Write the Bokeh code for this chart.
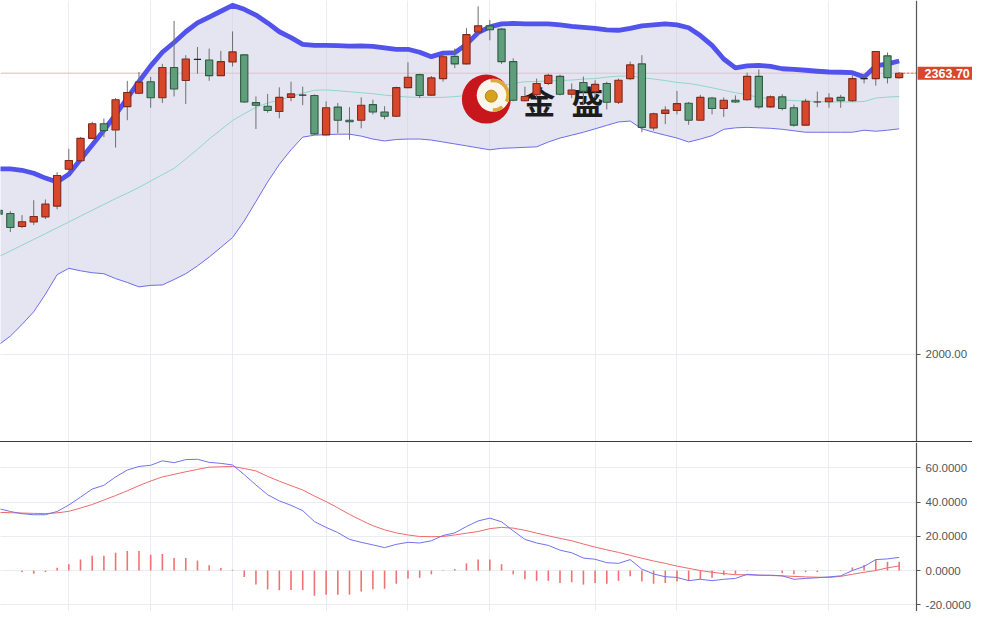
from bokeh.plotting import figure
from bokeh.models import (Range1d, FixedTicker, PrintfTickFormatter, Grid, Span, Label,
                          BoxAnnotation)
from bokeh.layouts import column
from bokeh.embed import file_html
from bokeh.resources import INLINE
from bokeh.core.properties import value

# ---------------- data (daily candles, first one partly outside the view) ----------------
opens = [2186.4, 2182.2, 2165.3, 2171.2, 2177.9, 2191.8, 2239.4, 2250.4, 2279.4, 2298.3,
         2290.2, 2320.5, 2337.8, 2352.6, 2331.9, 2371.0, 2354.2, 2381.6, 2380.7, 2360.5,
         2378.2, 2387.4, 2325.6, 2321.0, 2314.2, 2332.4, 2335.3, 2334.9, 2283.9, 2319.8,
         2302.9, 2302.9, 2323.0, 2313.5, 2307.9, 2345.0, 2361.8, 2335.3, 2356.7, 2385.4,
         2375.7, 2416.9, 2424.9, 2420.7, 2378.6, 2328.1, 2335.7, 2350.4, 2359.6, 2336.5,
         2351.7, 2340.0, 2350.4, 2326.1, 2356.7, 2375.7, 2292.8, 2311.7, 2315.5, 2324.8,
         2302.9, 2331.5, 2318.0, 2328.6, 2329.4, 2359.6, 2320.1, 2333.1, 2318.9, 2296.5,
         2326.5, 2326.8, 2332.4, 2328.1, 2356.7, 2356.7, 2386.1, 2358.0]
highs = [2190.2, 2185.1, 2180.1, 2199.4, 2200.3, 2235.6, 2265.9, 2281.0, 2300.8, 2305.0,
         2331.5, 2353.8, 2365.2, 2358.9, 2375.7, 2431.2, 2387.0, 2397.5, 2395.5, 2392.5,
         2417.7, 2388.3, 2333.6, 2336.9, 2345.4, 2352.6, 2346.3, 2336.2, 2327.3, 2325.2,
         2319.8, 2332.4, 2329.4, 2321.0, 2346.3, 2377.8, 2363.0, 2360.1, 2388.3, 2395.5,
         2422.0, 2450.1, 2432.5, 2422.0, 2382.9, 2346.3, 2356.7, 2363.0, 2361.8, 2350.4,
         2359.3, 2354.6, 2352.6, 2356.7, 2378.6, 2387.0, 2312.6, 2321.0, 2340.7, 2326.5,
         2335.7, 2333.1, 2332.4, 2334.9, 2364.3, 2368.5, 2334.9, 2336.5, 2323.0, 2330.6,
         2339.9, 2337.8, 2335.7, 2360.9, 2361.8, 2392.5, 2390.4, 2365.2]
lows = [2177.5, 2158.2, 2163.3, 2167.4, 2175.0, 2187.6, 2238.1, 2249.5, 2278.5, 2281.0,
        2267.5, 2302.9, 2336.5, 2318.9, 2325.2, 2333.6, 2323.9, 2363.0, 2353.8, 2360.1,
        2372.3, 2325.2, 2291.5, 2312.6, 2305.4, 2327.3, 2322.3, 2283.9, 2283.2, 2286.1,
        2277.6, 2292.4, 2310.4, 2304.1, 2307.1, 2344.1, 2331.5, 2334.4, 2352.6, 2370.2,
        2374.8, 2415.7, 2406.3, 2375.7, 2327.3, 2327.3, 2331.5, 2348.3, 2334.9, 2331.5,
        2323.0, 2331.5, 2316.7, 2323.9, 2354.6, 2287.3, 2289.5, 2297.8, 2310.4, 2297.0,
        2302.1, 2310.4, 2307.1, 2325.2, 2328.1, 2317.6, 2318.9, 2315.5, 2294.5, 2295.8,
        2319.8, 2318.9, 2318.9, 2326.5, 2350.4, 2347.5, 2350.4, 2356.7]
closes = [2181.3, 2164.0, 2171.6, 2178.4, 2194.3, 2231.4, 2250.7, 2279.4, 2298.3, 2289.5,
          2329.4, 2338.7, 2352.1, 2331.9, 2371.0, 2343.2, 2382.0, 2381.6, 2360.5, 2378.6,
          2391.2, 2326.5, 2322.3, 2315.5, 2332.4, 2336.9, 2335.3, 2285.2, 2318.9, 2302.9,
          2300.8, 2322.3, 2313.5, 2307.9, 2345.0, 2358.4, 2334.9, 2357.6, 2384.9, 2375.7,
          2413.5, 2424.9, 2419.8, 2378.6, 2328.6, 2333.6, 2350.4, 2360.9, 2336.5, 2342.0,
          2340.3, 2349.2, 2326.1, 2354.6, 2374.4, 2293.6, 2311.3, 2316.0, 2324.3, 2302.9,
          2332.4, 2318.0, 2328.6, 2326.5, 2359.6, 2320.1, 2333.1, 2318.0, 2296.5, 2327.3,
          2326.5, 2331.5, 2328.1, 2356.7, 2356.7, 2391.7, 2358.0, 2363.7]

# Bollinger bands
boll_upper = [2240.0, 2239.8, 2238.1, 2234.3, 2228.0, 2223.0, 2233.1, 2252.0, 2270.9, 2289.9,
              2310.0, 2331.5, 2353.0, 2373.1, 2390.8, 2403.4, 2417.3, 2428.7, 2436.2, 2443.8,
              2451.4, 2446.3, 2438.8, 2428.7, 2417.3, 2409.7, 2400.9, 2399.6, 2399.6, 2399.3,
              2398.8, 2399.0, 2398.4, 2396.5, 2394.6, 2394.6, 2390.8, 2385.1, 2389.6, 2390.2,
              2400.9, 2416.1, 2423.6, 2427.4, 2428.0, 2427.4, 2427.4, 2427.4, 2426.1, 2424.3,
              2423.0, 2421.7, 2419.8, 2419.2, 2421.7, 2424.9, 2426.1, 2427.4, 2426.1, 2422.4,
              2412.3, 2399.6, 2382.0, 2370.6, 2373.1, 2373.8, 2372.5, 2369.4, 2368.5, 2367.5,
              2366.2, 2365.2, 2364.9, 2364.3, 2358.6, 2373.1, 2375.7, 2379.5]
boll_mid = [2126.4, 2133.7, 2141.2, 2148.6, 2156.1, 2163.7, 2171.2, 2178.8, 2186.4, 2193.9,
            2201.5, 2208.5, 2216.0, 2224.2, 2232.4, 2240.6, 2252.6, 2265.2, 2278.5, 2290.5,
            2302.5, 2311.3, 2319.5, 2325.2, 2329.0, 2333.4, 2337.8, 2341.6, 2342.0, 2341.0,
            2339.7, 2338.4, 2337.2, 2335.3, 2334.0, 2332.8, 2332.4, 2332.4, 2332.4, 2333.4,
            2334.7, 2337.8, 2342.9, 2347.9, 2350.4, 2352.6, 2353.0, 2353.6, 2354.2, 2354.8,
            2356.1, 2356.7, 2358.6, 2359.9, 2360.1, 2358.0, 2356.1, 2354.2, 2351.7, 2350.4,
            2347.9, 2344.8, 2341.6, 2338.4, 2335.9, 2332.1, 2330.9, 2329.6, 2328.1, 2327.7,
            2327.1, 2326.5, 2326.5, 2326.5, 2327.1, 2331.5, 2332.8, 2333.6]
boll_lower = [2012.2, 2023.6, 2038.7, 2055.1, 2077.8, 2103.1, 2111.3, 2108.1, 2105.6, 2104.3,
              2098.0, 2093.0, 2087.3, 2089.2, 2089.8, 2096.8, 2104.3, 2114.4, 2125.8, 2138.4,
              2151.0, 2172.5, 2197.7, 2223.0, 2245.7, 2264.6, 2281.0, 2283.5, 2284.2, 2284.8,
              2284.8, 2282.3, 2278.5, 2276.0, 2277.9, 2278.5, 2278.5, 2277.2, 2274.7, 2272.2,
              2269.7, 2267.1, 2264.6, 2266.5, 2267.1, 2267.8, 2268.4, 2274.7, 2279.8, 2283.5,
              2287.3, 2291.7, 2296.2, 2300.6, 2301.8, 2291.7, 2287.3, 2283.5, 2279.8, 2274.7,
              2278.5, 2282.9, 2291.1, 2293.0, 2293.6, 2293.0, 2292.4, 2291.1, 2289.2, 2287.3,
              2287.3, 2287.3, 2287.3, 2287.3, 2289.9, 2288.6, 2289.9, 2291.7]

# MACD
macd_dif = [36.2, 34.5, 33.2, 32.6, 32.6, 34.5, 38.3, 42.9, 47.6, 49.8,
            54.7, 58.7, 60.8, 61.5, 64.1, 63.0, 64.8, 65.0, 63.2, 62.6,
            61.7, 56.0, 50.0, 44.3, 40.7, 38.1, 35.0, 28.6, 25.2, 22.2,
            18.2, 16.5, 15.0, 13.4, 15.3, 16.5, 16.1, 17.4, 20.5, 22.0,
            25.7, 29.0, 30.6, 28.5, 23.2, 18.2, 16.1, 14.7, 11.9, 10.4,
            7.3, 6.6, 4.6, 4.2, 6.4, 0.8, -2.0, -3.6, -4.0, -5.9,
            -5.1, -5.9, -5.1, -4.6, -2.2, -2.7, -2.7, -3.1, -5.1, -4.6,
            -4.2, -3.7, -3.1, 0.0, 2.4, 6.4, 6.8, 7.7]
macd_dea = [34.0, 33.8, 33.6, 33.4, 33.3, 33.7, 34.6, 36.5, 38.6, 41.2,
            43.8, 46.6, 49.6, 52.3, 54.7, 56.2, 57.7, 59.1, 60.4, 60.6,
            60.8, 59.6, 58.2, 55.0, 52.2, 49.6, 47.1, 43.5, 40.3, 36.6,
            32.8, 29.4, 26.2, 23.8, 22.0, 20.8, 19.9, 19.8, 19.9, 20.8,
            21.8, 22.8, 24.5, 25.2, 24.8, 23.5, 21.9, 20.3, 18.8, 17.4,
            15.5, 13.7, 12.1, 10.6, 8.9, 7.2, 5.6, 4.2, 2.6, 1.3,
            0.0, -1.0, -1.8, -2.4, -2.5, -2.7, -2.9, -3.1, -3.4, -3.7,
            -3.9, -4.0, -3.4, -2.2, -1.0, 0.0, 1.6, 2.7]
macd_hist = [0.0, 0.0, -0.9, -1.8, -0.9, 1.6, 3.7, 6.4, 8.6, 8.6,
             10.4, 11.4, 11.4, 9.2, 9.7, 7.3, 7.3, 5.9, 3.1, 1.5,
             0.5, -3.7, -8.2, -11.0, -11.5, -11.4, -11.4, -14.7, -14.1, -14.1,
             -14.1, -12.3, -11.0, -10.6, -7.7, -4.6, -4.2, -2.2, -0.3, 0.9,
             4.2, 6.4, 6.4, 3.7, -2.2, -5.1, -6.0, -6.0, -7.3, -6.8,
             -8.2, -7.3, -7.7, -6.0, -3.3, -6.4, -7.7, -7.3, -6.4, -6.0,
             -5.1, -4.2, -2.7, -2.2, -0.3, 0.1, 0.1, -1.5, -2.2, -0.9,
             -0.9, 0.1, 0.3, 1.8, 3.3, 6.4, 5.1, 5.1]

first_index = -1
idx = list(range(first_index, first_index + len(opens)))

grid_days = [5, 12, 19, 27, 34, 41, 50, 57, 70]
price_ticks = [2000]
macd_ticks = [-20, 0, 20, 40, 60]

# ---------------- styles / layout ----------------
UP_FILL, UP_LINE = "#d9472b", "#7e2a1c"
DN_FILL, DN_LINE = "#5f9e7b", "#2f5a44"
DOJI = "#222222"
AX_COL = "#555555"
GRID_COL = "#e9ecf1"
FONT = "Liberation Sans"

FIG_W = 972
AXIS_X = 77.49                      # x position of the price axis line
x_range = Range1d(-0.841, 82.27)


def style_axis(fig, ticks, fmt):
    ax = fig.yaxis[0]
    ax.fixed_location = AXIS_X
    ax.ticker = FixedTicker(ticks=ticks)
    ax.formatter = PrintfTickFormatter(format=fmt)
    ax.axis_line_color = AX_COL
    ax.axis_line_width = 1.2
    ax.major_tick_line_color = AX_COL
    ax.major_tick_out = 4
    ax.major_tick_in = 0
    ax.minor_tick_line_color = None
    ax.major_label_text_color = AX_COL
    ax.major_label_text_font = FONT
    ax.major_label_text_font_size = "11.5px"
    ax.major_label_standoff = 5


def add_grids(fig, yticks):
    fig.grid.visible = False
    fig.add_layout(Grid(dimension=0, ticker=FixedTicker(ticks=grid_days),
                        grid_line_color=GRID_COL, grid_line_width=1))
    fig.add_layout(Grid(dimension=1, ticker=FixedTicker(ticks=yticks),
                        grid_line_color=GRID_COL, grid_line_width=1))


# ---------------- price panel ----------------
p = figure(width=FIG_W, height=441, x_range=x_range,
           y_range=Range1d(1887.3, 2457.7), x_axis_location=None,
           y_axis_location="right", toolbar_location=None, output_backend="svg",
           min_border=0, outline_line_color=None,
           background_fill_color="white", border_fill_color="white")
add_grids(p, price_ticks)
style_axis(p, price_ticks, "%.2f")

last_close = closes[-1]
p.add_layout(Span(location=last_close, dimension="width", line_color="#efb3b3",
                  line_width=1, level="underlay"))
p.add_layout(BoxAnnotation(left=AXIS_X, fill_color="white", fill_alpha=1,
                           line_color=None, level="underlay"))

# band
p.varea(x=idx, y1=boll_lower, y2=boll_upper, fill_color="#cfd0e6", fill_alpha=0.55)
p.line(idx, boll_mid, line_color="#8fd6c8", line_width=1)
p.line(idx, boll_lower, line_color="#6d6deb", line_width=1)

# watermark logo + text
lx, ly = 40.7, 2330.2
p.scatter([lx], [ly], size=49, fill_color="#c8161d", line_color=None)
p.scatter([lx + 0.59], [ly + 5.0], size=33, fill_color="#fbf6ec", line_color=None)
p.annular_wedge(x=[lx + 0.59], y=[ly + 5.0], inner_radius=13, outer_radius=16.5,
                inner_radius_units="screen", outer_radius_units="screen",
                start_angle=-0.45, end_angle=1.75, fill_color="#d9aa3c", line_color=None)
p.annular_wedge(x=[lx + 0.59], y=[ly + 5.0], inner_radius=13, outer_radius=16.5,
                inner_radius_units="screen", outer_radius_units="screen",
                start_angle=-1.6, end_angle=-0.9, fill_color="#d9aa3c", line_color=None)
p.scatter([lx + 0.42], [ly + 3.8], size=12, fill_color="#d4a21e", line_color="#b8861a")
p.text(x=[45.22, 49.34], y=[2329.0, 2329.0], text=["金", "盛"],
       text_font=value("Noto Sans CJK SC"), text_font_size="32px",
       text_font_style="bold", text_align="center", text_baseline="middle",
       text_color="#1c1c1c")

# upper band (thick)
p.line(idx, boll_upper, line_color="#5252ec", line_width=4.8, line_join="round")

# candles
body_top, body_bot, fills, lines_c = [], [], [], []
for o, c in zip(opens, closes):
    body_top.append(max(o, c))
    body_bot.append(min(o, c))
    if c > o:
        fills.append(UP_FILL); lines_c.append(UP_LINE)
    elif c < o:
        fills.append(DN_FILL); lines_c.append(DN_LINE)
    else:
        fills.append(DOJI); lines_c.append(DOJI)
p.segment(x0=idx, x1=idx, y0=lows, y1=highs, line_color="#6f6f6f", line_width=1)
p.vbar(x=idx, top=body_top, bottom=body_bot, width=0.62, fill_color=fills,
       line_color=lines_c, line_width=1.1)

# last price dotted marker + tag on the axis
p.segment(x0=[idx[-1]], x1=[AXIS_X], y0=[last_close], y1=[last_close],
          line_color="#e07060", line_width=1, line_dash="2 2")
p.add_layout(Label(x=AXIS_X, y=last_close, x_offset=1, text=f"{last_close:.2f}",
                   text_color="white", text_font=FONT, text_font_size="12.5px",
                   text_font_style="bold", text_align="left", text_baseline="middle",
                   background_fill_color="#d9472b",
                   padding=dict(left=7, right=10, top=2, bottom=2)))

# ---------------- MACD panel ----------------
q = figure(width=FIG_W, height=170, x_range=x_range,
           y_range=Range1d(-24.5, 74.8), x_axis_location=None,
           y_axis_location="right", toolbar_location=None, output_backend="svg",
           min_border=0, outline_line_color=None,
           background_fill_color="white", border_fill_color="white")
q.styles = {"border-top": "1.5px solid #3a3a3a"}
add_grids(q, macd_ticks)
style_axis(q, macd_ticks, "%.4f")
q.add_layout(BoxAnnotation(left=AXIS_X, fill_color="white", fill_alpha=1,
                           line_color=None, level="underlay"))

q.segment(x0=idx, x1=idx, y0=[0] * len(idx), y1=macd_hist, line_color="#f07373",
          line_width=1.6)
q.line(idx, macd_dea, line_color="#f06a6a", line_width=1)
q.line(idx, macd_dif, line_color="#7272ee", line_width=1)

layout = column(p, q, spacing=0)
open("out.html", "w").write(file_html(layout, INLINE))
